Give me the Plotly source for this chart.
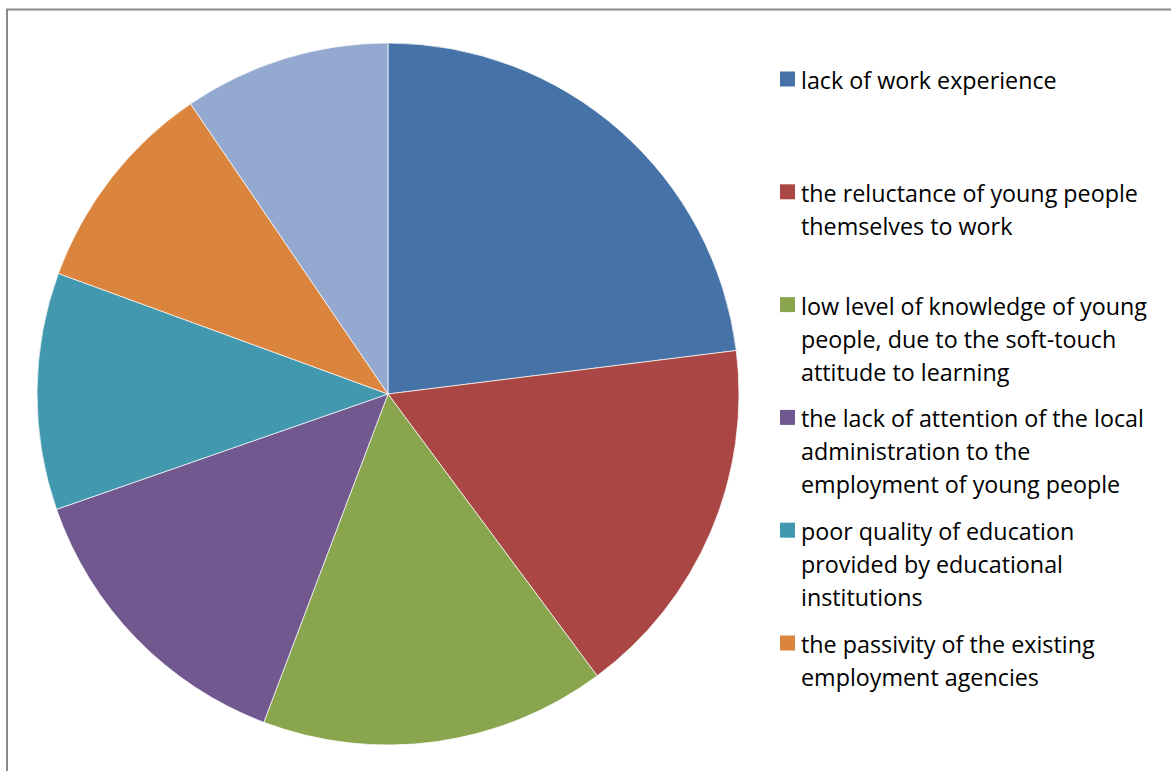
import plotly.graph_objects as go

# ---- data ----
labels = [
    "lack of work experience",
    "the reluctance of young people<br>themselves to work",
    "low level of knowledge of young<br>people, due to the soft-touch<br>attitude to learning",
    "the lack of attention of the local<br>administration to the<br>employment of young people",
    "poor quality of education<br>provided by educational<br>institutions",
    "the passivity of the existing<br>employment agencies",
    "other reasons",
]
values = [23.0, 16.8, 15.9, 13.9, 10.9, 9.9, 9.5]
colors = ["#4572A7", "#AA4643", "#89A54E", "#71588F", "#4198AF", "#DB843D", "#93A9CF"]
legend_shown = 6  # the reference legend is cut off after six entries

W, H = 1171, 771
FONT = "Open Sans"
FSIZE = 23.3


def px(x):
    return x / W


def py(y):
    return 1 - y / H


cx, cy, r = 388, 394, 351

fig = go.Figure(
    go.Pie(
        labels=[l.replace("<br>", " ") for l in labels],
        values=values,
        sort=False,
        direction="clockwise",
        rotation=0,
        marker=dict(colors=colors, line=dict(color="rgba(255,255,255,0.7)", width=1)),
        textinfo="none",
        showlegend=False,
        domain=dict(x=[px(cx - r), px(cx + r)], y=[py(cy + r), py(cy - r)]),
    )
)

shapes = [
    dict(type="rect", xref="paper", yref="paper",
         x0=px(7), x1=px(W + 20), y0=py(H + 20), y1=py(9.5),
         line=dict(color="#8a8a8a", width=2), fillcolor="rgba(0,0,0,0)")
]
annotations = []
start_y, step, line_h = 79, 112.8, 33
for i in range(legend_shown):
    yc = start_y + i * step
    shapes.append(dict(type="rect", xref="paper", yref="paper",
                       x0=px(780), x1=px(795), y0=py(yc + 7.5), y1=py(yc - 7.5),
                       line=dict(width=0), fillcolor=colors[i]))
    for j, line in enumerate(labels[i].split("<br>")):
        annotations.append(dict(
            xref="paper", yref="paper", x=px(799), y=py(yc + 1 + j * line_h),
            xanchor="left", yanchor="middle", showarrow=False, text=line,
            font=dict(family=FONT, size=FSIZE, color="#000000")))

fig.update_layout(
    width=W, height=H,
    margin=dict(l=0, r=0, t=0, b=0),
    paper_bgcolor="white", plot_bgcolor="white",
    shapes=shapes, annotations=annotations,
)
fig.write_html("out.html")
